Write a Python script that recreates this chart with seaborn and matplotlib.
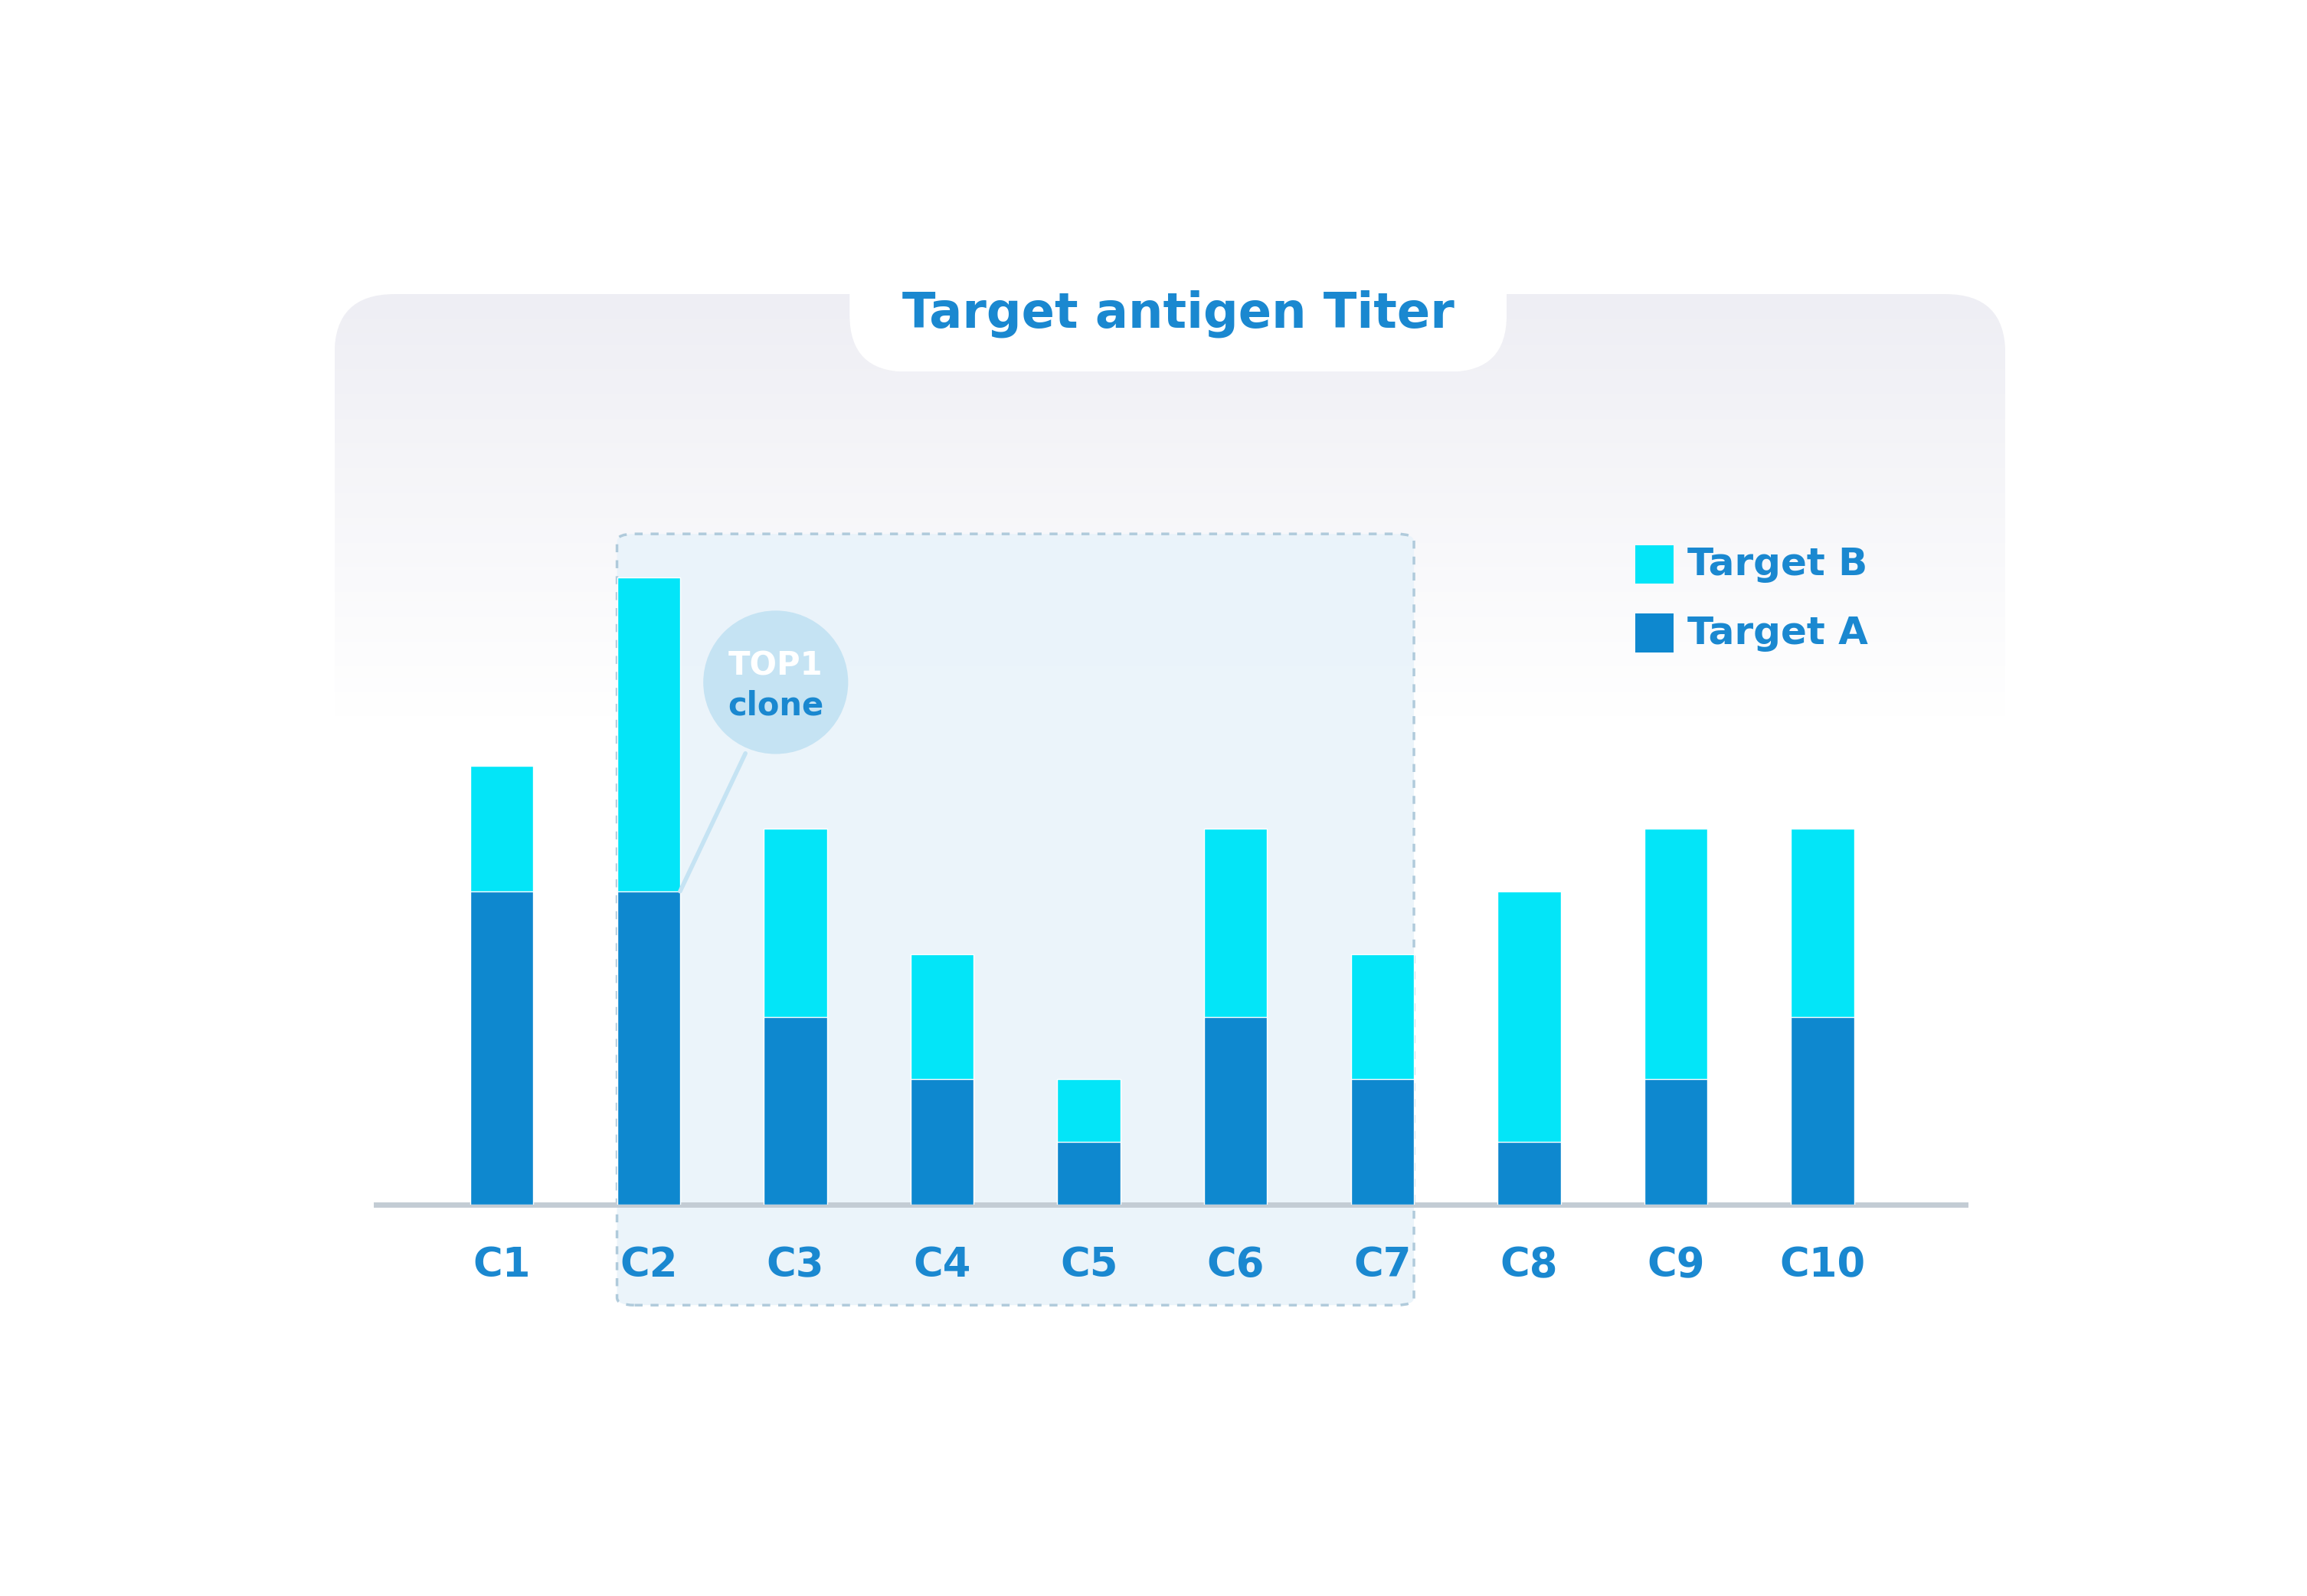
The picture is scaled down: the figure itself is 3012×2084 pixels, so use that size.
import numpy as np
import pandas as pd
import seaborn as sns
import matplotlib.pyplot as plt
from matplotlib.patches import FancyBboxPatch, Rectangle, Circle

clones = ['C1', 'C2', 'C3', 'C4', 'C5', 'C6', 'C7', 'C8', 'C9', 'C10']
target_a = [5, 5, 3, 2, 1, 3, 2, 1, 2, 3]
target_b = [2, 5, 3, 2, 1, 3, 2, 4, 4, 3]

col_a = '#0e88cf'
col_b = '#03e5f8'
txt_blue = '#1a88d0'

df = pd.DataFrame({'clone': clones, 'A': target_a, 'B': target_b})
df['total'] = df['A'] + df['B']

sns.set_style('white')
plt.rcParams['font.family'] = ['DejaVu Sans']
fig = plt.figure(figsize=(30.12, 20.84), dpi=100)
W, H = 1545, 1069

def fr(x0, y0, x1, y1):
    return [x0 / W, 1 - y1 / H, (x1 - x0) / W, (y1 - y0) / H]

# gradient background panel
bg = fig.add_axes(fr(224, 197, 1343, 480))
bg.axis('off')
grad = np.linspace(0, 1, 256)[:, None]
from matplotlib.colors import LinearSegmentedColormap
cm = LinearSegmentedColormap.from_list('g', ['#eeeef4', '#ffffff'])
im = bg.imshow(grad, cmap=cm, aspect='auto', extent=[0, 1119, 283, 0])
bg.set_xlim(0, 1119)
bg.set_ylim(283, 0)
clip = FancyBboxPatch((0, 0), 1119, 400, boxstyle='round,pad=0,rounding_size=40',
                      transform=bg.transData, facecolor='none', edgecolor='none')
bg.add_patch(clip)
im.set_clip_path(clip)

# title pill
tp = fig.add_axes(fr(569, 170, 1009, 249))
tp.axis('off')
tp.set_xlim(0, 440)
tp.set_ylim(79, 0)
tp.add_patch(FancyBboxPatch((0, -40), 440, 119, boxstyle='round,pad=0,rounding_size=38',
                            facecolor='white', edgecolor='none'))
fig.text(789 / W, 1 - 210 / H, 'Target antigen Titer', ha='center', va='center',
         fontsize=46, fontweight='bold', color=txt_blue)

# main chart
ax = fig.add_axes(fr(252, 345, 1316, 807))
ax.add_patch(FancyBboxPatch((1 - 0.215, -1.6), 5.43, 12.3,
                            boxstyle='round,pad=0,rounding_size=0.12',
                            facecolor='#e9f3fa', edgecolor='#a9c6d8', lw=2.5,
                            ls=(0, (3, 3)), clip_on=False, zorder=0, alpha=0.9))
sns.barplot(data=df, x='clone', y='total', color=col_b, width=0.43,
            saturation=1, ax=ax, zorder=2)
sns.barplot(data=df, x='clone', y='A', color=col_a, width=0.43,
            saturation=1, ax=ax, zorder=3)
ax.set_xlim(-0.855, 9.97)
ax.set_ylim(0, 11)
for s in ['top', 'right', 'left']:
    ax.spines[s].set_visible(False)
ax.spines['bottom'].set_color('#c3ccd4')
ax.spines['bottom'].set_linewidth(5)
ax.set_yticks([])
ax.set_xlabel('')
ax.set_ylabel('')
ax.tick_params(axis='x', length=0, pad=38, labelsize=38, labelcolor=txt_blue)
for t in ax.get_xticklabels():
    t.set_fontweight('bold')
ax.patch.set_alpha(0)

# TOP1 bubble
ax.plot([1.215, 1.66], [5, 7.2], color='#c5e3f3', lw=4, zorder=4)
ax.add_patch(Circle((1.86, 8.5), 0.5, transform=ax.transData, facecolor='#c5e3f3',
                    edgecolor='none', zorder=4))
ax.add_patch(Circle((1.86, 8.5), 1.17, facecolor='none', edgecolor='none'))
bub = fig.add_axes(fr(470, 408, 569, 506))
bub.axis('off')
bub.set_xlim(-1, 1)
bub.set_ylim(-1, 1)
bub.add_patch(Circle((0, 0), 0.98, facecolor='#c5e3f3', edgecolor='none'))
bub.text(0, 0.22, 'TOP1', ha='center', va='center', fontsize=30,
         fontweight='bold', color='white')
bub.text(0, -0.32, 'clone', ha='center', va='center', fontsize=30,
         fontweight='bold', color=txt_blue)
ax.patches[-1].remove()
ax.patches[-1].remove()

# legend
for yy, lab, c in [(378, 'Target B', col_b), (424, 'Target A', col_a)]:
    fig.patches.append(Rectangle((1095 / W, 1 - (yy + 13) / H), 26 / W, 26 / H,
                                 transform=fig.transFigure, facecolor=c, edgecolor='none'))
    fig.text(1130 / W, 1 - yy / H, lab, ha='left', va='center', fontsize=36,
             fontweight='bold', color=txt_blue)

fig.savefig('out.png', dpi=100, facecolor='white')
